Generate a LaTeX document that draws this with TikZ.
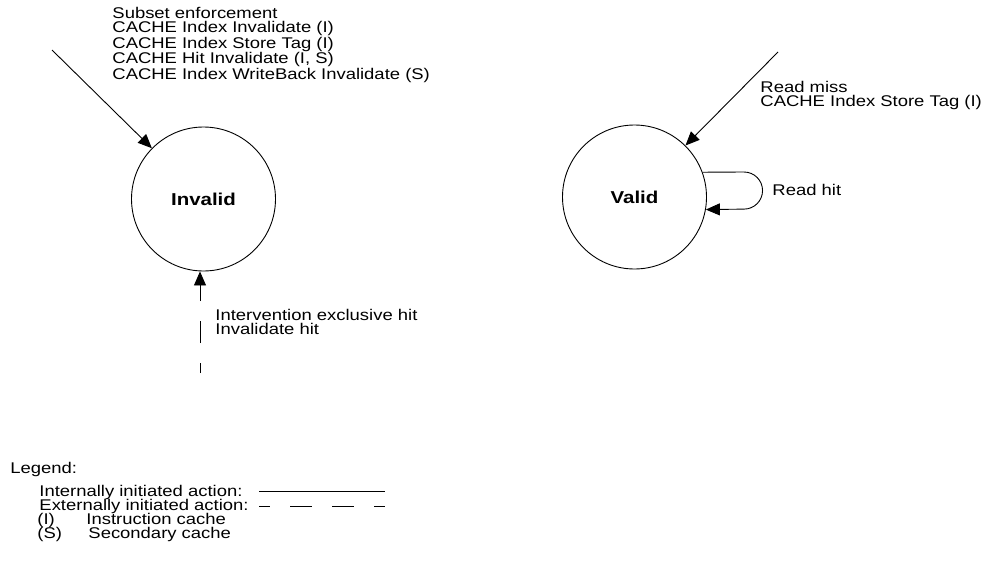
\documentclass[tikz,border=0pt]{standalone}
\usepackage{fontspec}
\setmainfont{Liberation Sans}[FakeStretch=1.19]
\usetikzlibrary{
    arrows.meta,
    automata
}

\begin{document}
\begin{tikzpicture}[x=1pt, y=-1pt, line width=0.9pt,
        font=\fontsize{15.5}{13.7}\selectfont,
        >={Triangle[length=14pt, width=12pt]},
        txt/.style={inner sep=0pt, align=left},
        ext/.style={dash pattern=on 22pt off 20pt},
        big/.style={font=\fontsize{17.2}{17.2}\selectfont\bfseries}]
                        \useasboundingbox (0, 0) rectangle (985, 563);
                        \node[state, big, minimum size=144pt] (inv) at (203.5, 199) {Invalid};
                        \node[state, big, minimum size=144pt] (val) at (634.5, 197) {Valid};
                        \coordinate (p) at (52, 50);
                        \coordinate (q) at (778, 52);
                        \coordinate (r) at (200, 373);
                        \coordinate (h) at (744, 172);
                        \node[txt, anchor=north west] (pl) at (112, 7.3) {Subset enforcement\\CACHE Index Invalidate (I)\\CACHE Index Store Tag (I)\\CACHE Hit Invalidate (I, S)\\CACHE Index WriteBack Invalidate (S)};
                        \node[txt, anchor=north west] (ql) at (760, 81.3) {Read miss\\CACHE Index Store Tag (I)};
                        \node[txt, anchor=north west] (rl) at (215, 309.3) {Intervention exclusive hit\\Invalidate hit};
                        \node[txt, anchor=base west] (hl) at (772, 195.6) {Read hit};
                        \draw
                        (p) edge[->] (inv)
                        (q) edge[->] (val)
                        (r) edge[->, ext, dash phase=12pt] (r |- inv.south);
                        \draw[->] (val.20) -- (h) arc[start angle=-90, end angle=90, radius=18.55] -- (val.-10);
                        % legend
                        \node[txt, anchor=base west] (lg) at (10, 473.6) {Legend:};
                        \node[txt, anchor=base west] (li) at (39, 496.6) {Internally initiated action:};
                        \node[txt, anchor=base west] (le) at (39, 510.6) {Externally initiated action:};
                        \node[txt, anchor=base west] (ic) at (37, 524.6) {(I)};
                        \node[txt, anchor=base west] (icl) at (86, 524.6) {Instruction cache};
                        \node[txt, anchor=base west] (sc) at (37, 538.6) {(S)};
                        \node[txt, anchor=base west] (scl) at (88, 538.6) {Secondary cache};
                        \coordinate (ia) at (259, 491);
                        \coordinate (ib) at (385, 491);
                        \coordinate (ea) at (259, 506);
                        \coordinate (eb) at (385, 506);
                        \draw (ia) -- (ib);
                        \draw[ext, dash phase=11pt] (ea) -- (eb);
                    \end{tikzpicture}
\end{document}
